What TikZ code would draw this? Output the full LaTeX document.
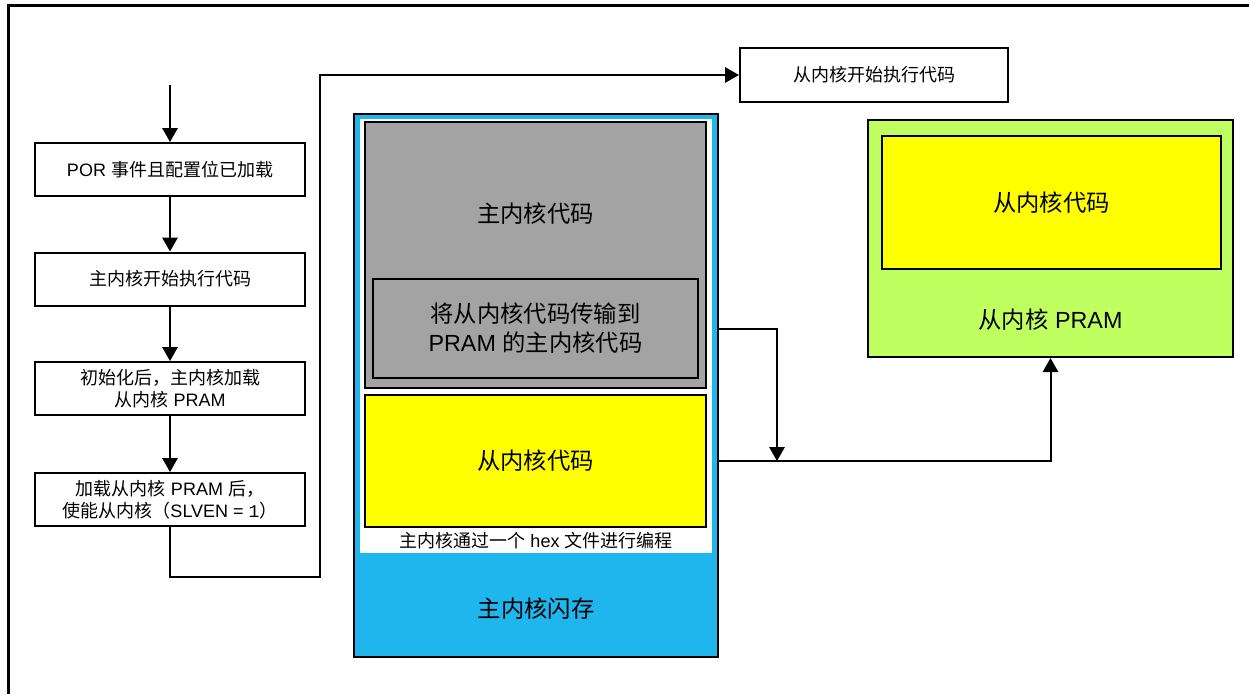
\documentclass[tikz,border=0pt]{standalone}
\usepackage{fontspec}
\setmainfont{Liberation Sans}
\newfontfamily\zh{Noto Sans CJK SC}
\newfontfamily\cour{Liberation Mono}
\usepackage{tikz}
\usetikzlibrary{arrows.meta}
\definecolor{flashblue}{RGB}{30,182,236}
\definecolor{codegray}{RGB}{163,163,163}
\definecolor{codeyellow}{RGB}{255,255,0}
\definecolor{pramgreen}{RGB}{192,255,96}
\newcommand{\smalltxt}{\fontsize{13.5}{16.5}\selectfont}
\newcommand{\bigtxt}{\fontsize{17.5}{21.75}\selectfont}

\begin{document}
\begin{tikzpicture}[x=0.75pt, y=-0.75pt,
    % Node styles
    flow/.style={rectangle, draw, line width=1.5pt, fill=white, minimum width=202.5pt, minimum height=39.75pt, inner sep=0pt, align=center, font=\smalltxt},
    block/.style={rectangle, draw, line width=1.5pt, inner sep=0pt, align=center, font=\bigtxt},
    txt/.style={inner sep=0pt, align=center, font=\bigtxt},
    % Edge styles
    edge/.style={draw, line width=1.5pt, -{Triangle[width=11.5pt,length=10.5pt]}}
]
\useasboundingbox (0,0) rectangle (1249,694);

% Frame
\draw[line width=2.25pt] (8.5,694) -- (8.5,5) -- (1249,5);

% Left column - boot flow
\coordinate (entry) at (170,85);
\node[flow] (por) at (170,169.5) {POR {\zh 事件且配置位已加载}};
\node[flow] (mstart) at (170,279) {{\zh 主内核开始执行代码}};
\node[flow] (init) at (170,388.5) {{\zh 初始化后，主内核加载}\\{\zh 从内核} PRAM};
\node[flow] (en) at (170,499.5) {{\zh 加载从内核} PRAM {\zh 后，}\\{\zh 使能从内核（}SLVEN = {\cour 1}{\zh ）}};
\coordinate (turn) at (320,577);

% Top - slave start
\node[flow, minimum width=201pt, minimum height=40.5pt] (sexec) at (874,75) {{\zh 从内核开始执行代码}};

% Middle - master flash
\node[block, fill=flashblue, minimum width=273pt, minimum height=407.25pt] (flash) at (536,385.5) {};
\node[fill=white, inner sep=0pt, minimum width=264pt, minimum height=325.5pt] (prog) at (536,336) {};
\node[block, fill=codegray, minimum width=255.75pt, minimum height=199.5pt] (mcode) at (535.5,255) {};
\node[txt] (mcodelbl) at (535.5,214) {{\zh 主内核代码}};
\node[block, fill=codegray, minimum width=243.75pt, minimum height=74.25pt] (xfer) at (535.5,328.5) {{\zh 将从内核代码传输到}\\PRAM {\zh 的主内核代码}};
\node[block, fill=codeyellow, minimum width=255.75pt, minimum height=99pt] (slv) at (535.5,461) {{\zh 从内核代码}};
\node[txt, font=\smalltxt] (proglbl) at (536,541) {{\zh 主内核通过一个} hex {\zh 文件进行编程}};
\node[txt] (flashlbl) at (536,609) {{\zh 主内核闪存}};

% Right - slave PRAM
\node[block, fill=pramgreen, minimum width=273.75pt, minimum height=177.75pt] (spram) at (1050.5,238.5) {};
\node[block, fill=codeyellow, minimum width=254.25pt, minimum height=99.75pt] (scode) at (1051.5,202.5) {{\zh 从内核代码}};
\node[txt] (spramlbl) at (1050.5,320) {{\zh 从内核} PRAM};
\coordinate (join) at (777,461);

% Draw all edges
\draw[edge] (entry) -- (por);
\draw[edge] (por) -- (mstart);
\draw[edge] (mstart) -- (init);
\draw[edge] (init) -- (en);

\draw[edge] (en.south) |- (turn) |- (sexec.west);

\draw[edge] (xfer.east -| flash.east) -| (join);
\draw[edge] (slv.east -| flash.east) -| (spram.south);

\end{tikzpicture}
\end{document}
